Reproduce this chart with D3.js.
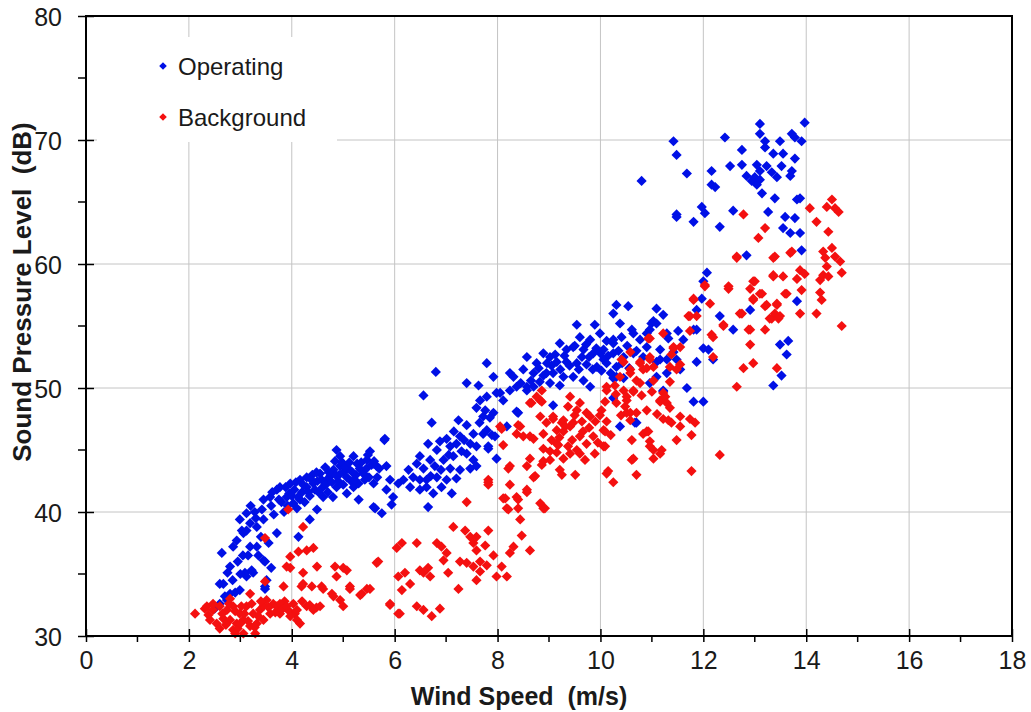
<!DOCTYPE html>
<html>
<head>
<meta charset="utf-8">
<script src="https://cdn.jsdelivr.net/npm/d3@7"></script>
<style>
	body { margin: 0; background: #fff; }
	text { font-family: "Liberation Sans", Arial, sans-serif; fill: #1a1a1a; }
</style>
</head>
<body>
<div id="chart"></div>
<script>
// Data
const seriesNames = ["Operating", "Background"];
const seriesColors = ["#0010e6", "#f41010"];
const xTicks = [0, 2, 4, 6, 8, 10, 12, 14, 16, 18];
const yTicks = [30, 40, 50, 60, 70, 80];

const operating = [
	[2.5,32.2],[2.6,32.6],[2.6,34.2],[2.64,36.7],[2.67,34.2],[2.74,32.9],[2.75,35.1],[2.8,33.4],[2.8,35.6],[2.86,37.2],
	[2.9,33.5],[2.93,37.7],[2.95,36.0],[2.99,33.7],[2.99,39.4],[3.03,38.5],[3.05,36.5],[3.06,38.3],[3.09,35.1],[3.12,38.5],
	[3.12,39.9],[3.12,34.8],[3.19,39.1],[3.19,37.2],[3.2,40.5],[3.22,35.3],[3.25,35.1],[3.3,39.5],[3.32,37.2],[3.32,38.8],
	[3.35,36.5],[3.42,40.2],[3.45,36.1],[3.45,41.0],[3.45,39.4],[3.48,34.0],[3.48,36.0],[3.48,33.8],[3.51,34.5],[3.55,37.5],
	[3.6,35.5],[3.58,41.2],[3.6,40.5],[3.65,39.8],[3.4,38.0],[3.28,40.0],[3.15,36.5],[3.0,35.0],[2.85,34.5],[2.7,33.2],
	[3.71,41.8],[3.71,38.3],[3.77,42.0],[3.8,40.8],[3.85,40.0],[3.9,41.2],[3.95,41.5],[3.97,42.3],[4.03,40.7],[4.05,41.8],
	[4.1,40.3],[4.13,38.0],[4.16,41.0],[4.16,42.6],[4.2,41.6],[4.25,40.8],[4.29,42.0],[4.29,42.8],[4.35,39.4],[4.35,41.3],
	[4.4,43.0],[4.42,42.3],[4.45,41.8],[4.49,40.2],[4.5,42.5],[4.55,43.1],[4.6,42.0],[4.61,41.2],[4.65,43.6],[4.68,42.6],
	[4.7,41.6],[4.75,42.9],[4.8,41.2],[4.81,43.4],[4.85,43.0],[4.87,42.0],[4.87,45.0],[4.9,42.5],[4.94,43.7],[4.94,44.5],
	[5.0,43.2],[5.0,42.2],[5.07,42.8],[5.07,41.5],[5.1,43.5],[5.15,42.5],[5.2,42.0],[5.2,44.5],[5.25,43.0],[5.27,43.9],
	[5.3,42.3],[5.3,41.0],[5.35,44.0],[5.39,43.1],[5.45,43.5],[5.46,44.2],[5.5,42.8],[5.52,44.9],[5.55,43.8],[5.59,42.3],
	[5.62,40.3],[5.65,43.7],[5.7,43.5],[5.59,40.4],[5.59,43.9],[5.75,39.9],[5.8,45.8],[5.81,45.9],[5.84,41.8],[5.84,43.7],
	[5.91,42.6],[5.94,40.6],[5.97,41.2],
	[3.62,41.6],[3.75,41.0],[3.88,42.0],[3.92,40.5],[4.0,41.3],[4.08,42.4],[4.12,41.2],[4.22,42.2],[4.32,41.6],[4.38,42.6],
	[4.48,43.2],[4.52,41.6],[4.58,42.6],[4.66,42.2],[4.72,43.2],[4.78,42.4],[4.84,44.1],[4.92,43.0],[4.98,44.0],[5.04,43.6],
	[5.12,44.0],[5.18,43.2],[5.22,42.6],[5.32,43.5],[5.42,42.6],[5.48,44.6],[5.6,44.1],[5.66,42.8],
	[6.07,42.3],[6.17,42.6],[6.27,43.4],[6.3,42.0],[6.36,42.8],[6.43,43.9],[6.49,44.5],[6.49,42.6],[6.49,41.8],[6.56,43.5],
	[6.56,49.4],[6.62,42.6],[6.62,42.0],[6.65,45.5],[6.65,40.4],[6.69,44.2],[6.72,47.2],[6.75,41.5],[6.78,43.7],[6.8,51.3],
	[6.82,45.0],[6.82,42.8],[6.88,45.7],[6.91,42.0],[6.95,44.2],[7.01,45.9],[7.01,42.6],[7.08,45.3],[7.08,43.5],[7.11,41.5],
	[7.14,44.5],[7.2,45.5],[7.2,42.7],[7.24,47.4],[7.27,46.1],[7.27,43.4],[7.4,50.4],[7.4,47.0],[7.4,44.7],[7.47,45.5],
	[7.47,43.5],[7.53,46.3],[7.53,44.2],[7.59,48.4],[7.59,45.3],[7.59,43.7],[7.63,50.2],[7.66,49.0],[7.72,46.3],[7.72,47.7],
	[7.76,48.2],[7.79,49.3],[7.79,52.0],[7.79,46.6],[7.82,45.1],[7.82,45.3],[7.89,46.2],[7.92,48.0],[7.92,50.9],[7.95,46.1],
	[7.98,49.6],[7.98,44.3],[6.9,43.4],[7.05,44.6],[7.3,44.9],[7.35,45.8],[6.7,42.9],[7.15,46.5],[7.65,47.2],[7.85,47.6],
	[8.05,49.6],[8.11,49.0],[8.18,46.9],[8.24,51.2],[8.24,49.8],[8.31,50.9],[8.37,48.1],[8.37,50.1],[8.4,48.0],[8.5,51.5],
	[8.57,49.8],[8.57,52.5],[8.57,50.1],[8.7,50.1],[8.7,51.2],[8.76,52.0],[8.89,52.8],[8.89,51.0],[8.96,52.0],[9.02,52.5],
	[9.02,50.4],[9.08,51.2],[9.08,48.6],[9.15,52.1],[9.21,53.6],[9.21,50.2],[9.28,50.9],[9.34,53.1],[9.34,52.1],[9.47,53.3],
	[9.47,50.9],[9.54,55.1],[9.54,52.0],[9.6,54.1],[9.67,53.1],[9.67,50.6],[9.73,51.9],[9.8,53.9],[9.8,50.1],[9.86,52.8],
	[9.89,55.1],[9.93,51.7],[9.99,54.4],
	[8.8,51.6],[8.95,51.2],[9.05,51.8],[9.12,52.7],[9.22,51.5],[9.3,52.6],[9.4,51.8],[9.5,53.4],[9.58,51.5],[9.64,52.5],
	[9.72,53.5],[9.78,52.5],[9.85,51.5],[9.92,53.2],[10.0,52.8],[10.02,51.4],[10.15,52.6],[10.2,51.2],[10.35,53.0],[10.42,52.0],
	[10.52,53.4],[10.56,51.6],[10.7,53.0],[8.65,50.6],[8.45,50.4],[8.82,50.5],
	[10.06,53.1],[10.06,52.3],[10.12,53.8],[10.12,52.0],[10.25,56.0],[10.25,53.9],[10.25,52.8],[10.25,50.8],[10.25,53.6],[10.25,49.2],
	[10.31,56.7],[10.31,51.7],[10.31,50.9],[10.38,55.2],[10.38,46.9],[10.41,54.1],[10.45,52.5],[10.45,50.8],[10.54,56.6],[10.61,54.7],
	[10.64,54.4],[10.64,52.8],[10.67,47.2],[10.7,47.2],[10.77,53.9],[10.8,66.7],[10.83,52.5],[10.9,53.3],[10.9,54.4],[10.96,54.7],
	[10.96,50.4],[10.99,55.2],[11.03,55.4],[11.09,56.4],[11.09,55.2],[11.09,52.1],[11.09,50.9],[11.16,53.1],[11.16,52.3],[11.22,55.9],
	[11.22,49.8],[11.22,49.7],[11.29,54.4],[11.29,52.3],[11.29,51.2],[11.32,54.0],[11.42,52.9],[11.42,69.9],[11.48,68.8],[11.48,52.3],
	[11.48,63.8],[11.48,64.0],[11.51,54.6],[11.55,51.5],[11.61,53.9],[11.68,67.3],[11.68,50.0],[11.81,63.4],[11.81,54.7],[11.81,48.9],
	[11.87,56.3],[11.87,54.7],[11.87,52.1],[11.97,64.6],[11.97,57.2],[12.0,58.6],[12.0,53.2],[12.0,48.9],[12.03,64.1],[12.07,59.3],
	[12.1,53.1],[12.19,52.3],
	[12.16,67.5],[12.16,66.4],[12.23,66.2],[12.32,63.0],[12.32,55.8],[12.42,70.2],[12.52,67.9],[12.58,64.3],[12.58,54.7],[12.75,69.2],
	[12.75,68.0],[12.84,67.1],[12.84,60.7],[12.91,56.3],[12.94,66.7],[13.0,67.0],[13.04,68.0],[13.04,66.4],[13.1,71.3],[13.1,70.5],
	[13.1,67.5],[13.1,66.8],[13.14,65.7],[13.2,69.9],[13.2,69.4],[13.23,67.9],[13.26,64.2],[13.33,67.4],[13.36,68.9],[13.36,50.2],
	[13.39,65.3],[13.43,67.0],[13.49,69.9],[13.49,53.5],[13.52,67.9],[13.52,51.0],[13.55,68.9],[13.55,62.9],[13.59,63.8],[13.62,52.7],
	[13.65,53.8],[13.69,67.1],[13.69,62.5],[13.72,70.5],[13.72,67.5],[13.78,70.2],[13.78,68.5],[13.78,63.7],[13.82,65.2],[13.82,57.0],
	[13.88,65.3],[13.88,62.5],[13.91,69.9],[13.91,61.1],[13.97,71.4]
];

const background = [
	[2.12,31.8],[2.31,32.2],[2.35,32.4],[2.38,31.7],[2.41,31.3],[2.47,32.1],[2.47,32.6],[2.54,31.0],[2.6,32.4],[2.6,30.6],
	[2.67,31.4],[2.74,32.1],[2.8,33.0],[2.8,31.3],[2.86,32.4],[2.86,30.5],[2.93,31.0],[2.99,31.8],[3.06,31.3],[3.06,30.2],
	[3.12,32.4],[3.19,33.4],[3.19,30.8],[3.25,31.8],[3.29,30.2],[3.32,31.0],[3.38,32.1],[3.45,31.3],[3.45,32.4],[3.48,34.4],
	[3.48,37.9],[3.51,32.9],[3.58,31.8],[3.64,32.6],
	[2.65,31.8],[2.72,30.9],[2.78,32.6],[2.9,32.0],[2.95,30.6],[3.02,32.4],[3.08,31.8],[3.15,31.2],[3.22,32.6],[3.28,30.7],
	[3.35,31.6],[3.4,32.8],[3.55,32.3],[3.68,31.9],[3.86,32.8],[3.95,32.0],[4.06,31.8],[4.2,32.8],[4.35,32.5],[4.48,32.3],
	[2.9,30.2],[3.0,31.0],
	[3.71,32.4],[3.77,32.6],[3.77,31.8],[3.8,32.1],[3.84,34.0],[3.9,32.4],[3.9,35.6],[3.93,40.2],[3.97,31.6],[3.97,36.4],
	[3.97,35.5],[4.03,32.6],[4.1,32.1],[4.1,31.3],[4.13,36.8],[4.16,31.0],[4.19,34.0],[4.22,38.8],[4.22,35.1],[4.22,34.2],
	[4.29,32.4],[4.29,36.9],[4.39,34.0],[4.42,32.1],[4.42,37.1],[4.49,35.6],[4.55,32.4],[4.58,34.0],[4.61,33.8],[4.78,33.4],
	[4.81,33.2],[4.84,35.6],[4.87,34.8],[4.94,32.9],[5.0,35.5],[5.0,32.4],[5.07,35.3],[5.13,34.0],[5.13,33.8],[5.33,33.3],
	[5.36,33.4],[5.46,33.8],[5.52,33.8],[5.65,35.9],[5.68,36.0],[5.91,32.6],[5.91,32.5],
	[6.04,37.1],[6.07,34.8],[6.07,31.8],[6.1,31.8],[6.14,37.5],[6.14,33.7],[6.2,35.1],[6.3,34.2],[6.43,37.5],[6.43,32.4],
	[6.49,35.3],[6.56,35.1],[6.56,32.1],[6.65,35.5],[6.69,34.8],[6.72,31.6],[6.82,37.5],[6.88,32.2],[6.91,37.2],[6.95,36.1],
	[7.01,36.7],[7.04,35.1],[7.14,38.8],[7.24,33.8],[7.27,36.0],[7.37,38.5],[7.4,35.9],[7.4,40.8],[7.47,38.0],[7.53,37.5],
	[7.53,35.6],[7.59,38.0],[7.59,36.9],[7.59,34.5],[7.66,36.0],[7.66,35.2],[7.76,37.3],[7.79,35.7],[7.82,38.5],[7.82,42.6],
	[7.82,42.2],[7.82,42.4],[7.92,36.5],[7.98,34.8],
	[8.05,46.9],[8.08,35.6],[8.08,46.7],[8.11,45.4],[8.11,41.1],[8.15,41.1],[8.18,34.8],[8.18,40.3],[8.21,43.5],[8.21,40.2],
	[8.24,36.7],[8.24,42.2],[8.24,43.7],[8.31,37.2],[8.37,41.2],[8.37,46.3],[8.4,40.3],[8.4,41.0],[8.4,47.0],[8.44,39.4],
	[8.44,46.9],[8.47,38.1],[8.5,46.1],[8.57,43.7],[8.57,41.6],[8.57,41.8],[8.63,36.9],[8.63,44.3],[8.63,48.8],[8.63,46.1],
	[8.66,48.8],[8.7,42.8],[8.7,45.9],[8.73,42.9],[8.76,49.3],[8.83,40.7],[8.83,47.7],[8.83,49.0],[8.86,48.9],[8.86,43.8],
	[8.86,49.8],[8.89,44.1],[8.89,45.1],[8.89,46.3],[8.89,40.3],[8.92,40.3],[9.02,44.9],[9.02,44.2],[9.08,47.5],[9.08,47.7],
	[9.15,45.5],[9.15,44.8],[9.15,46.6],[9.18,45.4],[9.21,43.4],[9.25,47.2],[9.25,43.0],[9.28,46.5],[9.28,44.3],[9.28,47.4],
	[9.37,45.3],[9.37,48.5],[9.41,44.7],[9.41,46.9],[9.41,49.3],[9.47,47.2],[9.51,43.0],[9.54,45.0],[9.54,48.2],[9.6,44.7],
	[9.6,46.1],[9.6,48.8],[9.64,47.3],[9.73,45.5],[9.73,48.0],[9.8,47.7],[9.86,46.1],[9.89,44.7],[9.99,47.8],
	[9.2,46.0],[9.32,46.9],[9.45,45.8],[9.5,47.8],[9.66,46.5],[9.7,44.2],[9.78,46.8],[9.9,47.3],[9.95,45.6],[10.02,48.2],
	[10.2,46.2],[10.3,49.5],[10.4,47.8],[9.05,45.8],[8.95,47.2],[10.8,49.4],[11.1,47.9],[11.0,49.7],
	[10.06,45.3],[10.06,46.6],[10.09,48.9],[10.09,46.5],[10.09,45.3],[10.12,43.1],[10.12,47.3],[10.12,49.8],[10.12,50.1],[10.15,43.3],
	[10.25,42.4],[10.28,50.2],[10.31,48.8],[10.38,50.9],[10.41,52.3],[10.45,49.8],[10.45,52.1],[10.48,48.5],[10.51,49.0],[10.51,48.0],
	[10.51,49.3],[10.58,47.4],[10.58,51.5],[10.58,52.9],[10.58,51.2],[10.58,48.0],[10.61,45.8],[10.61,44.2],[10.64,44.3],[10.64,49.7],
	[10.64,49.8],[10.7,43.0],[10.7,50.6],[10.7,48.0],[10.77,52.1],[10.77,52.0],[10.77,50.4],[10.83,51.5],[10.83,46.3],[10.9,46.5],
	[10.9,51.6],[10.9,48.2],[10.93,54.0],[10.93,46.5],[10.96,45.7],[10.96,52.5],[10.96,52.3],[10.96,54.0],[10.96,45.3],[11.03,45.0],
	[11.03,50.6],[11.03,51.7],[11.03,44.3],[11.16,44.7],[11.16,49.0],[11.16,48.9],[11.19,45.0],[11.22,47.5],[11.22,54.4],[11.22,49.6],
	[11.26,49.3],[11.29,48.8],[11.32,47.4],[11.35,51.7],[11.35,48.4],[11.35,50.5],[11.38,47.2],[11.38,52.7],[11.42,53.3],[11.42,53.2],
	[11.48,51.5],[11.48,45.8],[11.55,53.3],[11.55,51.9],[11.55,47.7],[11.55,46.9],[11.71,55.8],[11.74,54.6],[11.74,47.5],[11.74,55.8],
	[11.77,46.2],[11.77,43.3],[11.81,57.1],[11.81,57.2],[11.84,47.2],[11.87,55.8],
	[12.03,58.2],[12.03,58.3],[12.13,56.8],[12.16,54.3],[12.19,54.1],[12.19,52.5],[12.32,44.6],[12.39,55.1],[12.39,55.0],[12.49,58.0],
	[12.49,58.2],[12.65,60.5],[12.65,50.1],[12.65,60.6],[12.71,56.0],[12.75,56.0],[12.78,64.0],[12.78,51.6],[12.88,54.7],[12.91,58.0],
	[12.91,54.7],[12.91,53.5],[12.97,58.6],[12.97,57.1],[12.97,52.0],[12.97,57.2],[13.0,58.6],[13.07,62.1],[13.1,57.6],[13.14,57.6],
	[13.2,62.9],[13.2,56.6],[13.2,54.7],[13.23,56.7],[13.29,55.6],[13.33,55.6],[13.36,60.5],[13.36,59.0],[13.36,59.1],[13.39,60.6],
	[13.39,56.0],[13.43,56.7],[13.43,51.6],[13.43,56.8],[13.46,55.6],[13.49,55.8],[13.55,59.0],[13.59,57.6],[13.62,57.6],[13.69,60.9],
	[13.72,61.0],[13.82,58.8],[13.88,59.5],[13.88,56.0],[13.91,57.9],[13.97,59.2],[14.07,64.5],[14.2,63.4],[14.2,56.0],[14.27,58.7],
	[14.27,57.7],[14.3,57.1],[14.33,61.0],[14.33,59.1],[14.37,60.5],[14.4,64.6],[14.4,59.8],[14.43,62.6],[14.43,59.0],[14.5,65.2],
	[14.5,61.3],[14.56,64.5],[14.56,60.6],[14.63,64.2],[14.66,60.2],[14.69,59.3],[14.69,55.0]
];

// Dimensions
const W = 1031, H = 712;
const plot = {left: 86, right: 1012, top: 16, bottom: 636};

const svg = d3.select("#chart").append("svg")
	.attr("width", W)
	.attr("height", H);

svg.append("rect").attr("width", W).attr("height", H).attr("fill", "#fff");

// Scales
const x = d3.scaleLinear().domain([0, 18]).range([plot.left, plot.right]);
const y = d3.scaleLinear().domain([30, 80]).range([plot.bottom, plot.top]);

// Gridlines
svg.append("g").selectAll("line")
	.data(xTicks.slice(1, -1))
	.join("line")
		.attr("x1", d => x(d)).attr("x2", d => x(d))
		.attr("y1", plot.top).attr("y2", plot.bottom)
		.attr("stroke", "#c4c4c4").attr("stroke-width", 1);
svg.append("g").selectAll("line")
	.data(yTicks.slice(1, -1))
	.join("line")
		.attr("x1", plot.left).attr("x2", plot.right)
		.attr("y1", d => y(d)).attr("y2", d => y(d))
		.attr("stroke", "#c4c4c4").attr("stroke-width", 1);

// Legend box (white, hides the grid behind it)
svg.append("rect")
	.attr("x", 97).attr("y", 37)
	.attr("width", 240).attr("height", 105)
	.attr("fill", "#fff");

// Points
const diamond = r => `M0,${-r}L${r},0L0,${r}L${-r},0Z`;
[operating, background].forEach((pts, i) => {
	svg.append("g").selectAll("path")
		.data(pts)
		.join("path")
			.attr("d", diamond(5.1))
			.attr("transform", d => `translate(${x(d[0])},${y(d[1])})`)
			.attr("fill", seriesColors[i]);
});

// Frame
svg.append("rect")
	.attr("x", plot.left).attr("y", plot.top)
	.attr("width", plot.right - plot.left).attr("height", plot.bottom - plot.top)
	.attr("fill", "none").attr("stroke", "#000").attr("stroke-width", 2);

// Axes
const xAxis = svg.append("g")
	.attr("transform", `translate(0,${plot.bottom})`)
	.call(d3.axisBottom(x).tickValues(xTicks).tickSize(6).tickSizeOuter(0).tickFormat(d3.format("d")));
xAxis.select(".domain").remove();
xAxis.selectAll(".tick line").attr("y1", -7).attr("stroke-width", 1.5);
xAxis.selectAll(".tick text")
	.attr("y", 15).attr("dy", "0.71em")
	.style("font-size", "25px").style("font-family", '"Liberation Sans", Arial, sans-serif').attr("fill", "#1a1a1a");
// minor x ticks
svg.append("g").selectAll("line")
	.data(d3.range(1, 18, 2))
	.join("line")
		.attr("x1", d => x(d)).attr("x2", d => x(d))
		.attr("y1", plot.bottom).attr("y2", plot.bottom + 6)
		.attr("stroke", "#000").attr("stroke-width", 1.5);

const yAxis = svg.append("g")
	.attr("transform", `translate(${plot.left},0)`)
	.call(d3.axisLeft(y).tickValues(yTicks).tickSize(8).tickSizeOuter(0));
yAxis.select(".domain").remove();
yAxis.selectAll(".tick line").attr("x2", 8).attr("x1", -8).attr("stroke-width", 1.5);
yAxis.selectAll(".tick text")
	.attr("x", -24).attr("dy", "0.36em")
	.style("font-size", "25px").style("font-family", '"Liberation Sans", Arial, sans-serif').attr("fill", "#1a1a1a");
// minor y ticks
svg.append("g").selectAll("line")
	.data(d3.range(35, 80, 10))
	.join("line")
		.attr("x1", plot.left - 8).attr("x2", plot.left)
		.attr("y1", d => y(d)).attr("y2", d => y(d))
		.attr("stroke", "#000").attr("stroke-width", 1.5);

// Axis titles
svg.append("text")
	.attr("x", 519).attr("y", 705)
	.attr("text-anchor", "middle")
	.style("font-size", "25px").style("font-weight", 700)
	.style("white-space", "pre")
	.text("Wind Speed  (m/s)");

svg.append("text")
	.attr("transform", "translate(31,292) rotate(-90)")
	.attr("text-anchor", "middle")
	.style("font-size", "26px").style("font-weight", 700)
	.style("white-space", "pre")
	.text("Sound Pressure Level  (dB)");

// Legend
const legend = svg.append("g");
seriesNames.forEach((name, i) => {
	const ly = 66 + i * 51;
	legend.append("path")
		.attr("d", diamond(3.8))
		.attr("transform", `translate(163,${ly})`)
		.attr("fill", seriesColors[i]);
	legend.append("text")
		.attr("x", 178).attr("y", ly + 9)
		.style("font-size", "24px")
		.text(name);
});
</script>
</body>
</html>
